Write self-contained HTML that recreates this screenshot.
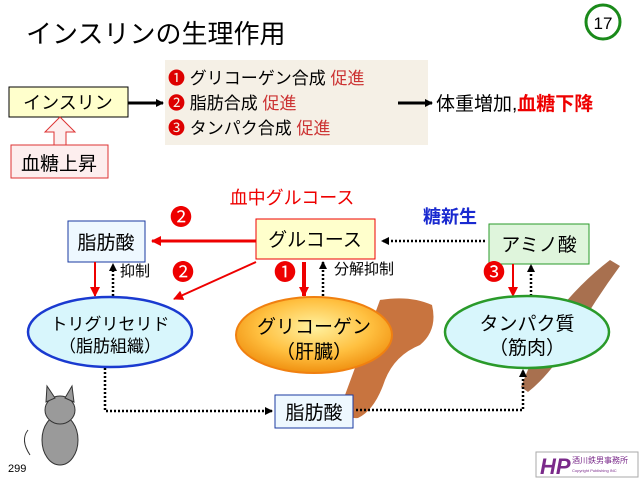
<!DOCTYPE html>
<html><head><meta charset="utf-8"><style>
body{margin:0;background:#fff;width:640px;height:480px;overflow:hidden}
svg text{font-family:"Liberation Sans","Noto Sans CJK JP",sans-serif}
</style></head><body>
<svg width="640" height="480" viewBox="0 0 640 480" xmlns="http://www.w3.org/2000/svg">
<defs>
<marker id="ab" markerWidth="8" markerHeight="8" refX="7" refY="4" orient="auto" markerUnits="userSpaceOnUse"><path d="M0,0 L8,4 L0,8z" fill="#000"/></marker>
<marker id="ar" markerWidth="10" markerHeight="10" refX="9" refY="5" orient="auto" markerUnits="userSpaceOnUse"><path d="M0,0 L10,5 L0,10z" fill="#e00"/></marker>
<radialGradient id="og" cx="50%" cy="40%" r="60%"><stop offset="0" stop-color="#fff2a0"/><stop offset="0.6" stop-color="#ffc040"/><stop offset="1" stop-color="#f09010"/></radialGradient>
</defs>
<text x="26" y="43" font-size="26">インスリンの生理作用</text>
<circle cx="603" cy="22" r="17" fill="#fff" stroke="#1a8a1a" stroke-width="3"/>
<text x="603" y="29" font-size="17" text-anchor="middle">17</text>
<rect x="9" y="87" width="119" height="30" fill="#ffffcc" stroke="#000"/>
<text x="68" y="109" font-size="18" text-anchor="middle">インスリン</text>
<line x1="128" y1="103" x2="163" y2="103" stroke="#000" stroke-width="3" marker-end="url(#ab)"/>
<rect x="165" y="60" width="263" height="85" fill="#f5f0e6"/>
<g font-size="17">
<text x="168" y="84"><tspan fill="#d00">❶</tspan> グリコーゲン合成 <tspan fill="#c33">促進</tspan></text>
<text x="168" y="109"><tspan fill="#d00">❷</tspan> 脂肪合成 <tspan fill="#c33">促進</tspan></text>
<text x="168" y="134"><tspan fill="#d00">❸</tspan> タンパク合成 <tspan fill="#c33">促進</tspan></text>
</g>
<line x1="398" y1="103" x2="432" y2="103" stroke="#000" stroke-width="3" marker-end="url(#ab)"/>
<text x="436" y="110" font-size="19">体重増加,<tspan fill="#e00" font-weight="bold">血糖下降</tspan></text>
<path d="M54,145 V132 H45 L60,117 L75,132 H66 V145" fill="#fdeeee" stroke="#d33"/>
<rect x="11" y="145" width="97" height="33" fill="#fdeeee" stroke="#d33"/>
<text x="59" y="170" font-size="19" text-anchor="middle">血糖上昇</text>
<!-- liver -->
<path d="M380,300 Q410,295 432,305 Q438,330 420,345 Q395,355 385,380 Q375,410 358,418 Q342,420 345,395 Z" fill="#c8743f"/>
<!-- muscle -->
<path d="M610,260 L620,266 Q595,300 575,335 Q550,375 528,392 L521,387 Q535,350 555,315 Q580,283 610,260Z" fill="#a8704f"/>
<text x="292" y="204" font-size="18" fill="#e00" text-anchor="middle">血中グルコース</text>
<rect x="256" y="219" width="119" height="40" fill="#ffffcc" stroke="#e00"/>
<text x="315" y="246" font-size="19" text-anchor="middle">グルコース</text>
<rect x="68" y="221" width="77" height="41" fill="#eef8ff" stroke="#1a3aa0"/>
<text x="106" y="249" font-size="19" text-anchor="middle">脂肪酸</text>
<rect x="489" y="224" width="100" height="40" fill="#dff5dc" stroke="#2a9a2a"/>
<text x="539" y="251" font-size="19" text-anchor="middle">アミノ酸</text>
<text x="450" y="223" font-size="18" fill="#1a2ad0" font-weight="bold" text-anchor="middle">糖新生</text>
<line x1="256" y1="241" x2="152" y2="241" stroke="#e00" stroke-width="3" marker-end="url(#ar)"/>
<line x1="485" y1="241" x2="382" y2="241" stroke="#000" stroke-width="2.5" stroke-dasharray="2,2" marker-end="url(#ab)"/>
<line x1="256" y1="262" x2="174" y2="299" stroke="#e00" stroke-width="2" marker-end="url(#ar)"/>
<g font-size="22" fill="#e00"><text x="181" y="225" text-anchor="middle">❷</text><text x="183" y="280" text-anchor="middle">❷</text><text x="285" y="280" text-anchor="middle">❶</text><text x="494" y="280" text-anchor="middle">❸</text></g>
<line x1="95" y1="262" x2="95" y2="296" stroke="#e00" stroke-width="2" marker-end="url(#ar)"/>
<line x1="113" y1="296" x2="113" y2="264" stroke="#000" stroke-width="2.5" stroke-dasharray="2,2" marker-end="url(#ab)"/>
<text x="120" y="276" font-size="15">抑制</text>
<line x1="304" y1="262" x2="304" y2="296" stroke="#e00" stroke-width="4" marker-end="url(#ar)"/>
<line x1="323" y1="296" x2="323" y2="262" stroke="#000" stroke-width="2.5" stroke-dasharray="2,2" marker-end="url(#ab)"/>
<text x="334" y="274" font-size="15">分解抑制</text>
<line x1="513" y1="264" x2="513" y2="296" stroke="#e00" stroke-width="2" marker-end="url(#ar)"/>
<line x1="531" y1="296" x2="531" y2="265" stroke="#000" stroke-width="2.5" stroke-dasharray="2,2" marker-end="url(#ab)"/>
<ellipse cx="110" cy="332" rx="82" ry="35" fill="#d8f6fc" stroke="#1a3ad0" stroke-width="2.5"/>
<text x="110" y="330" font-size="17" text-anchor="middle">トリグリセリド</text>
<text x="110" y="352" font-size="17" text-anchor="middle">（脂肪組織）</text>
<ellipse cx="314" cy="335" rx="78" ry="38" fill="url(#og)" stroke="#f08010" stroke-width="2"/>
<text x="314" y="333" font-size="19" text-anchor="middle">グリコーゲン</text>
<text x="314" y="358" font-size="19" text-anchor="middle">（肝臓）</text>
<ellipse cx="527" cy="332" rx="82" ry="36" fill="#d8f6fc" stroke="#2a9a2a" stroke-width="2.5"/>
<text x="527" y="330" font-size="19" text-anchor="middle">タンパク質</text>
<text x="527" y="354" font-size="19" text-anchor="middle">（筋肉）</text>
<rect x="275" y="395" width="78" height="33" fill="#eef8ff" stroke="#1a3aa0"/>
<text x="314" y="419" font-size="19" text-anchor="middle">脂肪酸</text>
<path d="M105,368 V411 H272" fill="none" stroke="#000" stroke-width="2.5" stroke-dasharray="2,2" marker-end="url(#ab)"/>
<path d="M356,410 H523 V370" fill="none" stroke="#000" stroke-width="2.5" stroke-dasharray="2,2" marker-end="url(#ab)"/>
<!-- mouse -->
<g fill="#9a9a9a" stroke="#333" stroke-width="1">
<path d="M30,455 Q20,440 28,430" fill="none"/>
<ellipse cx="60" cy="440" rx="18" ry="25"/>
<ellipse cx="60" cy="410" rx="15" ry="14"/>
<path d="M46,402 L47,386 L55,398Z M65,398 L72,386 L74,402Z"/>
</g>
<text x="8" y="472" font-size="11">299</text>
<rect x="536" y="452" width="102" height="25" fill="#fff" stroke="#aaa"/>
<text x="540" y="474" font-size="22" font-weight="bold" font-style="italic" fill="#7a2a8a">HP</text>
<text x="572" y="463" font-size="8" fill="#7a2a8a">酒川鉄男事務所</text>
<text x="572" y="472" font-size="4" fill="#7a2a8a">Copyright Publishing INC</text>
</svg>
</body></html>
